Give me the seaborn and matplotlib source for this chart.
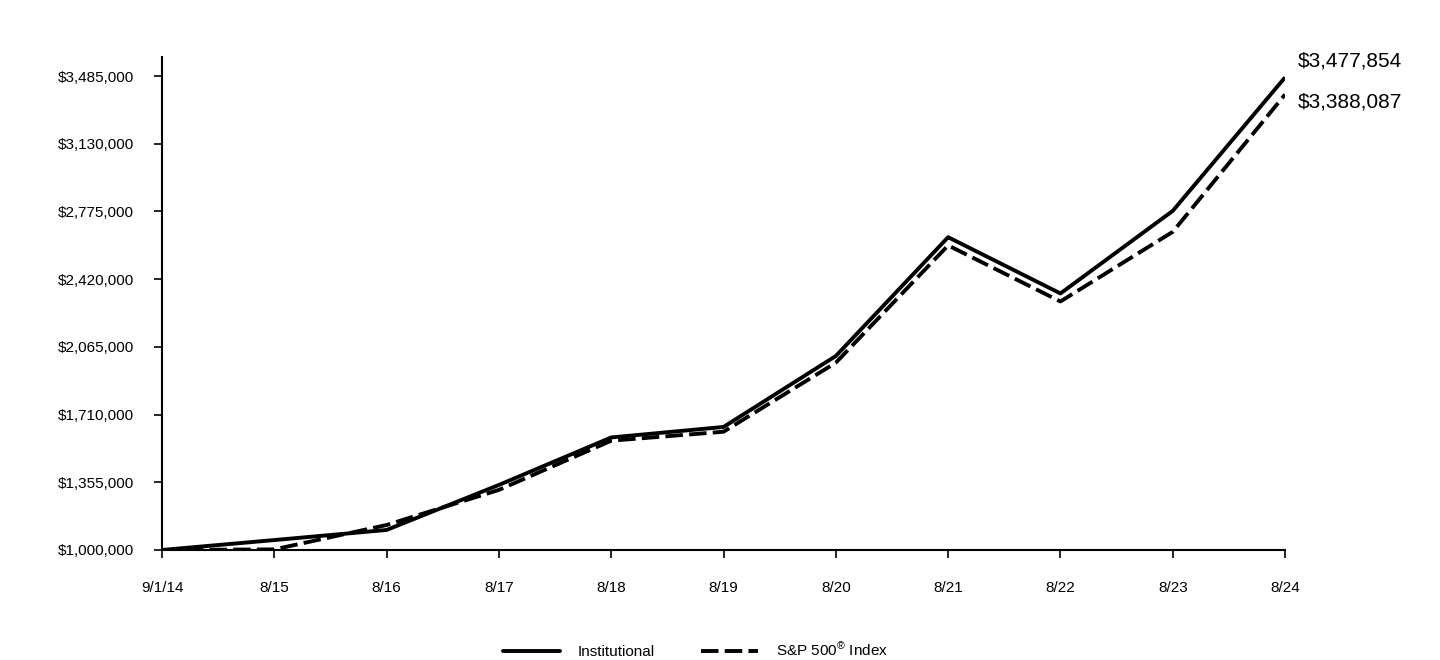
import matplotlib
matplotlib.use("Agg")
import matplotlib.pyplot as plt
import seaborn as sns
import pandas as pd

# Growth of $1,000,000 investment
dates = ["9/1/14", "8/15", "8/16", "8/17", "8/18", "8/19", "8/20", "8/21", "8/22", "8/23", "8/24"]
institutional = [1000000, 1052000, 1105000, 1341000, 1590000, 1645000, 2017000, 2640000, 2345000, 2778000, 3477854]
sp500 = [1000000, 1003000, 1131000, 1315000, 1573000, 1620000, 1982000, 2597000, 2303000, 2668000, 3388087]
y_ticks = [1000000, 1355000, 1710000, 2065000, 2420000, 2775000, 3130000, 3485000]

df = pd.DataFrame({"x": range(len(dates)), "Institutional": institutional, "S&P 500® Index": sp500})
long_df = df.melt(id_vars="x", var_name="series", value_name="value")

sns.set_style("white")
plt.rcParams["font.family"] = ["Liberation Sans", "DejaVu Sans"]
plt.rcParams["text.color"] = "black"
plt.rcParams["mathtext.fontset"] = "custom"
plt.rcParams["mathtext.rm"] = "Liberation Sans"
plt.rcParams["mathtext.it"] = "Liberation Sans"

fig = plt.figure(figsize=(14.4, 6.6), dpi=100)
ax = fig.add_axes([0.1125, 0.1667, 0.7799, 0.7469])

sns.lineplot(data=long_df, x="x", y="value", hue="series", style="series",
             palette=["black", "black"], dashes=[(1, 0), (4.5, 1.6)],
             linewidth=2.8, ax=ax, legend=False)

ax.set_xlim(0, len(dates) - 1)
ax.set_ylim(1000000, 3584600)
ax.set_xticks(range(len(dates)))
ax.set_xticklabels(dates)
ax.set_yticks(y_ticks)
ax.set_yticklabels([f"${v:,.0f}" for v in y_ticks])
ax.set_xlabel("")
ax.set_ylabel("")

for s in ["top", "right"]:
    ax.spines[s].set_visible(False)
for s in ["left", "bottom"]:
    ax.spines[s].set_color("black")
    ax.spines[s].set_linewidth(1.5)

ax.tick_params(axis="y", direction="out", length=6, width=1.2, pad=14, labelsize=11, colors="black", left=True)
ax.tick_params(axis="x", direction="out", length=6, width=1.2, pad=16, labelsize=11, colors="black", bottom=True)

ax.annotate(f"${institutional[-1]:,}", xy=(len(dates) - 1, institutional[-1]), xytext=(9, 12),
            textcoords="offset points", va="center", ha="left", fontsize=15, color="black", annotation_clip=False)
ax.annotate(f"${sp500[-1]:,}", xy=(len(dates) - 1, sp500[-1]), xytext=(9, -5.5),
            textcoords="offset points", va="center", ha="left", fontsize=15, color="black", annotation_clip=False)

# legend
h1, = ax.plot([], [], color="black", linewidth=2.8)
h2, = ax.plot([], [], color="black", linewidth=2.8, dashes=(4.5, 1.6))
leg = fig.legend([h1, h2], ["Institutional", "S&P 500$^{\u00ae}$ Index"], loc="center", bbox_to_anchor=(0.483, 0.015),
                 ncol=2, frameon=False, fontsize=11, handlelength=3.7, handletextpad=1.2, columnspacing=3)
for t in leg.get_texts():
    t.set_color("black")

fig.savefig("out.png", dpi=100)
